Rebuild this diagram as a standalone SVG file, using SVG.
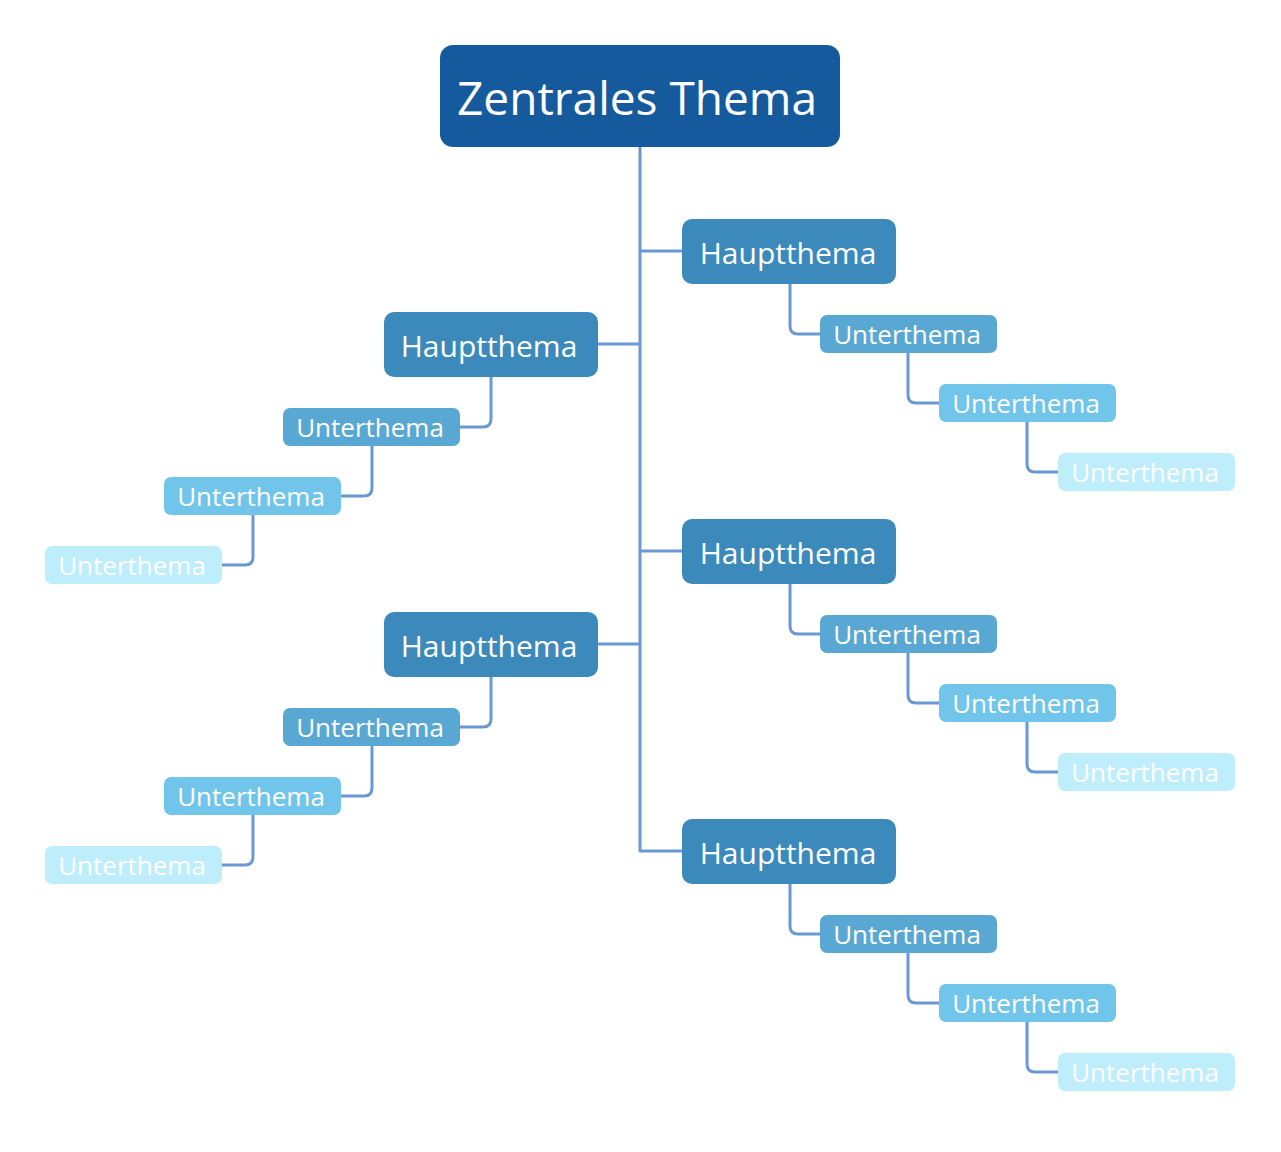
<svg xmlns="http://www.w3.org/2000/svg" width="1281" height="1152" viewBox="0 0 1281 1152">
<style>
text{font-family:"Open Sans","Noto Sans","DejaVu Sans",sans-serif;fill:#fff;text-anchor:middle}
.c{fill:none;stroke:#6A98D2;stroke-width:3;stroke-linejoin:round}
.root{fill:#165A9E}
.h{fill:#3C89BC}
.u1{fill:#59A7D3}
.u2{fill:#71C5EA}
.u3{fill:#BEEDFB}
.th{font-size:30px}
.tu{font-size:26px}
</style>
<rect width="1281" height="1152" fill="#fff"/>
<g id="connectors">
<path class="c" d="M640 147V851H682"/>
<path class="c" d="M640 251H682M640 551H682M598 344H640M598 644H640"/>
<path class="c" d="M790 284V326Q790 334 798 334H820M908 353V395Q908 403 916 403H939M1027 422V464Q1027 472 1035 472H1058"/>
<path class="c" d="M790 584V626Q790 634 798 634H820M908 653V695Q908 703 916 703H939M1027 722V764Q1027 772 1035 772H1058"/>
<path class="c" d="M790 884V926Q790 934 798 934H820M908 953V995Q908 1003 916 1003H939M1027 1022V1064Q1027 1072 1035 1072H1058"/>
<path class="c" d="M491 377V419Q491 427 483 427H460M372 446V488Q372 496 364 496H341M253 515V557Q253 565 245 565H222"/>
<path class="c" d="M491 677V719Q491 727 483 727H460M372 746V788Q372 796 364 796H341M253 815V857Q253 865 245 865H222"/>
</g>
<g id="root"><rect class="root" x="440" y="45" width="400" height="102" rx="13"/><text x="637" y="115" font-size="46">Zentrales Thema</text></g>
<g id="h-r1"><rect class="h" x="682" y="219" width="214" height="65" rx="10"/><text class="th" x="788" y="264">Hauptthema</text></g>
<g id="u-r1a"><rect class="u1" x="820" y="315" width="177" height="38" rx="7"/><text class="tu" x="907" y="344">Unterthema</text></g>
<g id="u-r1b"><rect class="u2" x="939" y="384" width="177" height="38" rx="7"/><text class="tu" x="1026" y="413">Unterthema</text></g>
<g id="u-r1c"><rect class="u3" x="1058" y="453" width="177" height="38" rx="7"/><text class="tu" x="1145" y="482">Unterthema</text></g>
<g id="h-r2"><rect class="h" x="682" y="519" width="214" height="65" rx="10"/><text class="th" x="788" y="564">Hauptthema</text></g>
<g id="u-r2a"><rect class="u1" x="820" y="615" width="177" height="38" rx="7"/><text class="tu" x="907" y="644">Unterthema</text></g>
<g id="u-r2b"><rect class="u2" x="939" y="684" width="177" height="38" rx="7"/><text class="tu" x="1026" y="713">Unterthema</text></g>
<g id="u-r2c"><rect class="u3" x="1058" y="753" width="177" height="38" rx="7"/><text class="tu" x="1145" y="782">Unterthema</text></g>
<g id="h-r3"><rect class="h" x="682" y="819" width="214" height="65" rx="10"/><text class="th" x="788" y="864">Hauptthema</text></g>
<g id="u-r3a"><rect class="u1" x="820" y="915" width="177" height="38" rx="7"/><text class="tu" x="907" y="944">Unterthema</text></g>
<g id="u-r3b"><rect class="u2" x="939" y="984" width="177" height="38" rx="7"/><text class="tu" x="1026" y="1013">Unterthema</text></g>
<g id="u-r3c"><rect class="u3" x="1058" y="1053" width="177" height="38" rx="7"/><text class="tu" x="1145" y="1082">Unterthema</text></g>
<g id="h-l1"><rect class="h" x="384" y="312" width="214" height="65" rx="10"/><text class="th" x="489" y="357">Hauptthema</text></g>
<g id="u-l1a"><rect class="u1" x="283" y="408" width="177" height="38" rx="7"/><text class="tu" x="370" y="437">Unterthema</text></g>
<g id="u-l1b"><rect class="u2" x="164" y="477" width="177" height="38" rx="7"/><text class="tu" x="251" y="506">Unterthema</text></g>
<g id="u-l1c"><rect class="u3" x="45" y="546" width="177" height="38" rx="7"/><text class="tu" x="132" y="575">Unterthema</text></g>
<g id="h-l2"><rect class="h" x="384" y="612" width="214" height="65" rx="10"/><text class="th" x="489" y="657">Hauptthema</text></g>
<g id="u-l2a"><rect class="u1" x="283" y="708" width="177" height="38" rx="7"/><text class="tu" x="370" y="737">Unterthema</text></g>
<g id="u-l2b"><rect class="u2" x="164" y="777" width="177" height="38" rx="7"/><text class="tu" x="251" y="806">Unterthema</text></g>
<g id="u-l2c"><rect class="u3" x="45" y="846" width="177" height="38" rx="7"/><text class="tu" x="132" y="875">Unterthema</text></g>
</svg>
